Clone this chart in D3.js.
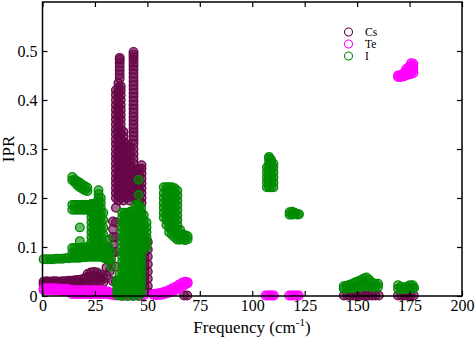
<!DOCTYPE html>
<html><head><meta charset="utf-8">
<script src="https://cdn.jsdelivr.net/npm/d3@7"></script>
<style>body{margin:0;background:#fff}svg{display:block}</style>
</head><body>
<svg id="c" width="476" height="340"></svg>
<script>
const xTicks=[0,25,50,75,100,125,150,175,200];
const yTicks=[0,0.1,0.2,0.3,0.4,0.5];
const yTickLabels=["0","0.1","0.2","0.3","0.4","0.5"];
const seriesNames=["Cs","Te","I"];
const seriesColors=["#670748","#ff00ff","#008b00"];

// [frequency, [IPR values at that frequency]]
const csCols=[
[0.5,[0.024,0.029]],[2,[0.025,0.03]],[3.5,[0.024,0.029]],[5,[0.025,0.03]],[6.5,[0.024,0.03]],[8,[0.025,0.029]],[9.5,[0.024,0.03]],[11,[0.025,0.03]],[12.5,[0.025,0.031]],[14,[0.026,0.031]],[15.5,[0.026,0.032]],[17,[0.027,0.033]],[18.5,[0.027,0.034]],[20,[0.028,0.036]],[21.5,[0.03,0.039,0.045]],[23,[0.03,0.04,0.048]],[24.5,[0.03,0.04,0.049]],[26,[0.03,0.04,0.048]],[27.5,[0.03,0.038,0.044]],[29,[0.028,0.036]],
[30.5,[0.042,0.058]],[32,[0.05,0.072,0.094]],[33.6,[0.03,0.088,0.104,0.12,0.136,0.152]],
[35,[0.03,0.06,0.09,0.12,0.15,0.18,0.2,0.21,0.22,0.23,0.24,0.25,0.26,0.27,0.28,0.29,0.3,0.31,0.32,0.33,0.34,0.35,0.36,0.37,0.38,0.39,0.4,0.41,0.42]],
[36.2,[0.195,0.205,0.215,0.225,0.235,0.245,0.255,0.265,0.275,0.285,0.295,0.305,0.315,0.325,0.335,0.345,0.355,0.365,0.375,0.385,0.395,0.405,0.415,0.425,0.434]],
[36.8,[0.444,0.452,0.46,0.468,0.476,0.482,0.486]],
[37.3,[0.2,0.21,0.22,0.23,0.24,0.25,0.26,0.27,0.28,0.29,0.3,0.31,0.32,0.33,0.34,0.35,0.36,0.37,0.38,0.39,0.4,0.41,0.42,0.428]],
[38.6,[0.195,0.205,0.215,0.225,0.235,0.245,0.255,0.265,0.275,0.285,0.295,0.305,0.315,0.325,0.335]],
[40,[0.2,0.21,0.22,0.23,0.24,0.25,0.26,0.27,0.28,0.29,0.3,0.31]],
[41.5,[0.195,0.205,0.215,0.225,0.235,0.245,0.255,0.265,0.275,0.29,0.305]],
[43.4,[0.2,0.21,0.22,0.23,0.24,0.25,0.26,0.27,0.28,0.29,0.3,0.31,0.318,0.326,0.334,0.342,0.35,0.358,0.366,0.374,0.382,0.39,0.398,0.406,0.414,0.422,0.43,0.438,0.446,0.454,0.462,0.47,0.476,0.482,0.488,0.493,0.498]],
[44.8,[0.195,0.205,0.215,0.225,0.235,0.245,0.255]],
[46,[0.19,0.2,0.21,0.22,0.23,0.24,0.25,0.26]],
[47.2,[0.02,0.05,0.08,0.11,0.14,0.17,0.19,0.2,0.21,0.22,0.23,0.24,0.25,0.26,0.267]],
[48.6,[0.01,0.02,0.03,0.04,0.05,0.06,0.07,0.08,0.09,0.1,0.11,0.12]],
[50.2,[0.008,0.02,0.035,0.05,0.065,0.08,0.095,0.11]],
[67.5,[0.001]],[69,[0.001]],
[143.7,[0.001]],[145.2,[0.001]],[146.7,[0.001]],[148.2,[0.001]],[149.7,[0.001]],[151.2,[0.001]],[152.7,[0.001]],[154.2,[0.001]],[155.7,[0.001]],[157.2,[0.001]],[158.7,[0.001]],[160.3,[0.001]],
[169.5,[0.001]],[171,[0.001]],[172.5,[0.001]],[174,[0.001]],[175.5,[0.001]],[177,[0.001]]
];

const teCols=[
[0.5,[0.012,0.016]],[2,[0.012,0.016]],[3.5,[0.012,0.016]],[5,[0.012,0.016]],[6.5,[0.011,0.016]],[8,[0.011,0.015]],[9.5,[0.01,0.015]],[11,[0.01,0.015]],[12.5,[0.008,0.014]],[14,[0.004,0.012]],[15.5,[0.004,0.012]],[17,[0.004,0.012]],[18.5,[0.004,0.012]],[20,[0.004,0.012]],[21.5,[0.004,0.012]],[23,[0.004,0.012]],[24.5,[0.004,0.012]],[26,[0.004,0.012]],[27.5,[0.004,0.012]],[29,[0.004,0.01]],[30.5,[0.004,0.01]],[32,[0.003,0.008]],[33.5,[0.002,0.006]],
[35,[0.001]],[36.5,[0.001]],[38,[0.001]],[39.5,[0.001]],[41,[0.001]],[42.5,[0.001]],[44,[0.001]],[45.5,[0.001]],[47,[0.001]],[48.5,[0.002]],
[53,[0.002,0.004]],[54.5,[0.002,0.005]],[56,[0.002,0.006]],[57.5,[0.003,0.008]],[59,[0.005,0.01]],[60.5,[0.007,0.013]],[62,[0.009,0.016]],[63.5,[0.012,0.019]],[65,[0.015,0.023]],[66.5,[0.019,0.027]],[68,[0.023,0.029]],[69.2,[0.026,0.028]],
[106.4,[0.001]],[107.4,[0.001]],[108.4,[0.001]],[109.4,[0.001]],[110.3,[0.001]],
[117.6,[0.001]],[118.8,[0.001]],[120,[0.001]],[121.2,[0.001]],[122.2,[0.001]],
[169.5,[0.447,0.45]],[170.8,[0.447,0.451]],[172,[0.448,0.454]],[173.3,[0.45,0.457,0.463]],[174.5,[0.452,0.46,0.467]],[175.7,[0.453,0.462,0.47,0.475]],[176.8,[0.455,0.462,0.469,0.474]]
];

const iCols=[
[0.5,[0.075]],[2,[0.075]],[3.5,[0.075]],[5,[0.075]],[6.5,[0.076]],[8,[0.076]],[9.5,[0.076]],[11,[0.077]],[12.5,[0.077]],
[14.2,[0.078,0.088,0.098,0.176,0.186,0.236,0.243]],
[15.4,[0.078,0.088,0.098,0.176,0.186,0.232,0.238]],
[16.6,[0.078,0.088,0.098,0.176,0.186,0.226,0.234]],
[17.8,[0.078,0.088,0.098,0.112,0.14,0.176,0.186,0.222,0.231]],
[19,[0.079,0.089,0.099,0.176,0.186,0.219,0.227]],
[20.2,[0.079,0.089,0.099,0.176,0.186,0.216,0.224]],
[21.4,[0.08,0.09,0.1,0.176,0.186,0.214,0.221]],
[22.4,[0.08,0.09,0.1,0.176,0.186]],
[23.3,[0.08,0.09,0.1,0.11,0.12,0.13,0.14,0.15,0.16,0.17,0.18,0.188]],
[24.5,[0.08,0.09,0.1,0.11,0.12,0.13,0.14,0.15,0.16,0.17,0.18,0.188]],
[25.6,[0.08,0.09,0.1,0.11,0.12,0.13,0.14,0.15,0.16,0.17,0.18,0.19]],
[26.7,[0.08,0.09,0.1,0.11,0.12,0.13,0.14,0.15,0.16,0.17,0.18,0.19,0.2,0.208,0.216]],
[27.8,[0.08,0.09,0.1,0.11,0.12,0.13,0.14,0.15,0.16,0.17,0.18,0.19,0.2]],
[29,[0.078,0.088,0.098,0.11,0.125,0.14,0.155,0.17]],
[30.3,[0.076,0.086,0.096]],[31.5,[0.075,0.085,0.1,0.115]],[32.7,[0.06,0.075,0.09]],
[35.5,[0.002,0.012,0.022,0.032]],
[36.7,[0.002,0.012,0.022,0.032,0.045]],
[38,[0,0.01,0.02,0.03,0.04,0.05,0.06,0.07,0.08,0.09,0.1,0.11,0.12,0.13,0.14,0.15,0.16,0.17]],
[39.3,[0.005,0.015,0.025,0.035,0.045,0.055,0.065,0.075,0.085,0.095,0.105,0.115,0.125,0.135,0.145,0.155,0.165,0.17]],
[40.6,[0,0.01,0.02,0.03,0.04,0.05,0.06,0.07,0.08,0.09,0.1,0.11,0.12,0.13,0.14,0.15,0.16,0.17]],
[41.9,[0.005,0.015,0.025,0.035,0.045,0.055,0.065,0.075,0.085,0.095,0.105,0.115,0.125,0.135,0.145,0.155,0.165,0.172]],
[43.2,[0,0.01,0.02,0.03,0.04,0.05,0.06,0.07,0.08,0.09,0.1,0.11,0.12,0.13,0.14,0.15,0.16,0.175]],
[44.5,[0.005,0.015,0.025,0.035,0.045,0.055,0.065,0.075,0.085,0.095,0.105,0.115,0.125,0.135,0.145,0.155,0.165,0.175,0.186]],
[45.8,[0,0.01,0.02,0.03,0.04,0.05,0.06,0.07,0.08,0.09,0.1,0.11,0.12,0.13,0.14,0.15,0.16,0.17,0.18,0.186,0.206,0.237]],
[47,[0.005,0.015,0.025,0.035,0.045,0.055,0.065,0.075,0.085,0.095,0.105,0.115,0.125,0.135,0.145,0.155,0.165,0.18]],
[48.3,[0.095,0.105,0.115,0.125,0.135,0.145,0.155,0.165]],
[49.6,[0.1,0.11,0.12,0.13,0.14,0.15]],
[57.8,[0.16,0.17,0.18,0.19,0.2,0.21,0.222]],
[59.1,[0.145,0.155,0.165,0.175,0.185,0.195,0.205,0.215,0.222]],
[60.4,[0.13,0.14,0.15,0.16,0.17,0.18,0.19,0.2,0.21,0.222]],
[61.7,[0.125,0.135,0.145,0.155,0.165,0.175,0.185,0.195,0.205,0.215,0.222]],
[63,[0.12,0.13,0.14,0.15,0.16,0.17,0.18,0.19,0.2,0.21,0.22]],
[64.3,[0.115,0.125,0.135,0.145,0.155,0.165,0.175,0.185,0.195,0.205,0.215]],
[65.6,[0.115,0.125,0.135]],[66.8,[0.116,0.126]],[68,[0.114,0.124]],[69.2,[0.116,0.122]],
[107,[0.222,0.232,0.242,0.252,0.262]],
[108,[0.222,0.232,0.242,0.252,0.262,0.272,0.28,0.284]],
[109,[0.222,0.232,0.242,0.252,0.262,0.272,0.278]],
[110.1,[0.222,0.232,0.242,0.252,0.262,0.27]],
[117.8,[0.166,0.171]],[119,[0.166,0.172]],[120.3,[0.167,0.17]],[121.6,[0.166]],[122.3,[0.167]],
[143.6,[0.015,0.02]],[145,[0.015,0.021]],[146.4,[0.016,0.023]],[147.8,[0.016,0.025]],[149.2,[0.017,0.028]],[150.6,[0.018,0.03]],[152,[0.018,0.033]],[153.3,[0.02,0.036]],[154.5,[0.022,0.038]],[155.8,[0.02,0.033]],[157.2,[0.018,0.027]],[158.6,[0.018,0.025]],[160,[0.019,0.025]],
[169.5,[0.015,0.022]],[170.9,[0.014,0.019]],[172.3,[0.014,0.017]],[173.7,[0.015,0.019]],[175.1,[0.015,0.022]],[176.5,[0.016,0.022]],[177.2,[0.017]]
];

const allSeries=[csCols,teCols,iCols];
const svg=d3.select("#c");
const font="'Liberation Serif','Times New Roman',serif";
const x=d3.scaleLinear().domain([0,200]).range([42.5,462]);
const y=d3.scaleLinear().domain([0,0.6]).range([296,2]);
const R=4.3, SW=1.3;

// data (dense overlapping open circles)
allSeries.forEach((cols,i)=>{
  const pts=cols.flatMap(([xv,ys])=>ys.map(yv=>[xv,yv]));
  svg.append("g").selectAll("circle").data(pts).join("circle")
    .attr("cx",d=>x(d[0])).attr("cy",d=>y(d[1])).attr("r",R)
    .attr("fill",seriesColors[i]).attr("fill-opacity",0.6)
    .attr("stroke",seriesColors[i]).attr("stroke-width",SW);
});

// axes
function styleAxis(g){
  g.select(".domain").remove();
  g.selectAll("line").attr("stroke","#000").attr("stroke-width",1.2);
  g.selectAll("text").attr("font-family",font).attr("font-size",16).attr("fill","#000");
}
svg.append("g").attr("transform","translate(0,296)")
  .call(d3.axisBottom(x).tickValues(xTicks).tickFormat(d3.format("d")).tickSizeInner(-5).tickSizeOuter(0).tickPadding(4)).call(styleAxis);
svg.append("g").attr("transform","translate(0,2)")
  .call(d3.axisTop(x).tickValues(xTicks).tickFormat("").tickSizeInner(-5).tickSizeOuter(0)).call(styleAxis);
svg.append("g").attr("transform","translate(42.5,0)")
  .call(d3.axisLeft(y).tickValues(yTicks).tickFormat((d,i)=>yTickLabels[i]).tickSizeInner(-5).tickSizeOuter(0).tickPadding(5)).call(styleAxis);
svg.append("g").attr("transform","translate(462,0)")
  .call(d3.axisRight(y).tickValues(yTicks).tickFormat("").tickSizeInner(-5).tickSizeOuter(0)).call(styleAxis);

svg.append("rect").attr("x",42.5).attr("y",2).attr("width",462-42.5).attr("height",294)
  .attr("fill","none").attr("stroke","#000").attr("stroke-width",1.5);

// titles
const xt=svg.append("text").attr("x",252).attr("y",333).attr("text-anchor","middle")
  .attr("font-family",font).attr("font-size",17);
xt.append("tspan").text("Frequency (cm");
xt.append("tspan").attr("font-size",11).attr("dy",-7).text("-1");
xt.append("tspan").attr("dy",7).text(")");
svg.append("text").attr("transform","translate(14,149) rotate(-90)").attr("text-anchor","middle")
  .attr("font-family",font).attr("font-size",17).text("IPR");

// legend
const lg=svg.append("g");
seriesNames.forEach((n,i)=>{
  lg.append("circle").attr("cx",348.5).attr("cy",32+i*12).attr("r",4)
    .attr("fill","none").attr("stroke",seriesColors[i]).attr("stroke-width",1.1);
  lg.append("text").attr("x",365).attr("y",36+i*12).attr("font-family",font)
    .attr("font-size",11.5).text(n);
});
</script>
</body></html>
